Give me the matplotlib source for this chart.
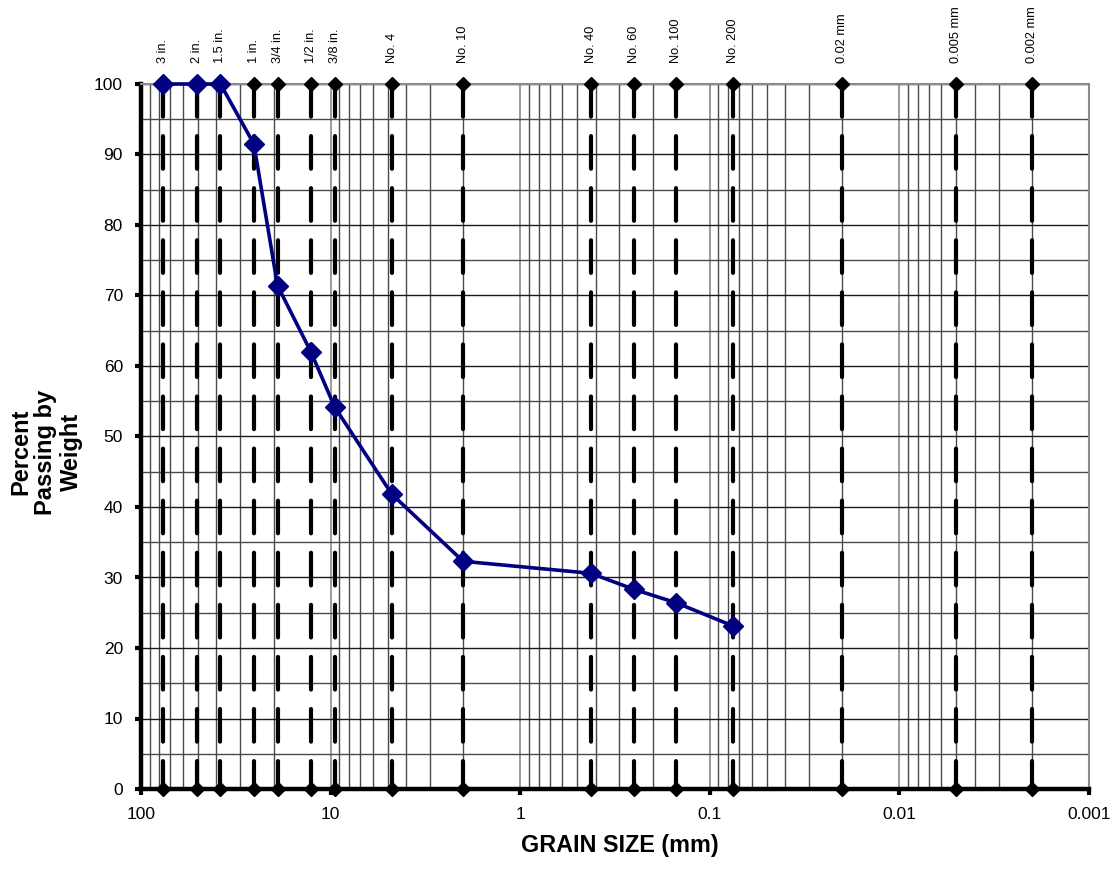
import matplotlib
matplotlib.use("Agg")
import matplotlib.pyplot as plt
from matplotlib.ticker import FixedLocator, NullFormatter, LogLocator
import numpy as np

plt.rcParams['font.family'] = ['Liberation Sans', 'DejaVu Sans']
plt.rcParams['lines.scale_dashes'] = False

# Sieve reference lines
sieve_labels = ["3 in.", "2 in.", "1.5 in.", "1 in.", "3/4 in.", "1/2 in.", "3/8 in.",
                "No. 4", "No. 10", "No. 40", "No. 60", "No. 100", "No. 200",
                "0.02 mm", "0.005 mm", "0.002 mm"]
sieve_sizes = [76.2, 50.8, 38.1, 25.4, 19.05, 12.7, 9.525,
               4.75, 2.0, 0.425, 0.25, 0.15, 0.075,
               0.02, 0.005, 0.002]

# Gradation data
grain_size = [76.2, 50.8, 38.1, 25.4, 19.05, 12.7, 9.525, 4.75, 2.0, 0.425, 0.25, 0.15, 0.075]
percent_passing = [100, 100, 100, 91.5, 71.4, 62.0, 54.2, 41.8, 32.3, 30.6, 28.3, 26.4, 23.1]

x_ticks = [100, 10, 1, 0.1, 0.01, 0.001]
x_tick_labels = ["100", "10", "1", "0.1", "0.01", "0.001"]
y_ticks = list(range(0, 101, 10))

W, H = 1113, 888
fig = plt.figure(figsize=(W / 100, H / 100), dpi=100)
left, right, top, bottom = 141, 1089, 84, 789
ax = fig.add_axes([left / W, 1 - bottom / H, (right - left) / W, (bottom - top) / H])

ax.set_xscale('log')
ax.set_xlim(100, 0.001)
ax.set_ylim(0, 100)

# grid
ax.xaxis.set_major_locator(FixedLocator(x_ticks))
ax.set_xticklabels(x_tick_labels)
ax.xaxis.set_minor_locator(LogLocator(base=10, subs=np.arange(2, 10)))
ax.xaxis.set_minor_formatter(NullFormatter())
ax.set_yticks(y_ticks)
ax.set_yticks(list(range(5, 100, 10)), minor=True)

ax.grid(True, which='major', axis='x', color='#8a8a8a', lw=1.2, zorder=0)
ax.grid(True, which='minor', axis='x', color='#4a4a4a', lw=1.0, zorder=0)
ax.grid(True, which='major', axis='y', color='#1a1a1a', lw=1.0, zorder=0)
ax.grid(True, which='minor', axis='y', color='#4a4a4a', lw=1.0, zorder=0)
ax.set_axisbelow(True)

ax.tick_params(axis='both', which='minor', length=0)
ax.tick_params(axis='both', which='major', length=4, width=3, direction='out',
               labelsize=12.5, pad=9, color='black')

for s in ['top', 'right']:
    ax.spines[s].set_color('#8a8a8a')
    ax.spines[s].set_linewidth(1.5)
for s in ['left', 'bottom']:
    ax.spines[s].set_color('black')
    ax.spines[s].set_linewidth(3.2)

# sieve lines
for lab, sz in zip(sieve_labels, sieve_sizes):
    ax.plot([sz, sz], [100, 0], color='black', lw=3.0,
            linestyle=(0, (23.5, 14)), dash_capstyle='round', zorder=3, clip_on=True)
    ax.plot([sz, sz], [100, 0], linestyle='none', marker='D', ms=7.5,
            color='black', zorder=4, clip_on=False)
    ax.annotate(lab, xy=(sz, 100), xytext=(0, 15), textcoords='offset points',
                rotation=90, ha='center', va='bottom', fontsize=9.2)

# gradation curve
ax.plot(grain_size, percent_passing, color='#000080', lw=2.6, marker='D', ms=10,
        zorder=5, clip_on=False)

fig.text(46 / W, 1 - 452 / H, "Percent\nPassing by\nWeight", rotation=90,
         ha='center', va='center', fontsize=17, fontweight='bold', linespacing=1.12)
fig.text(620 / W, 1 - 845 / H, "GRAIN SIZE (mm)", ha='center', va='center',
         fontsize=16.8, fontweight='bold')

fig.savefig("out.png", dpi=100)
